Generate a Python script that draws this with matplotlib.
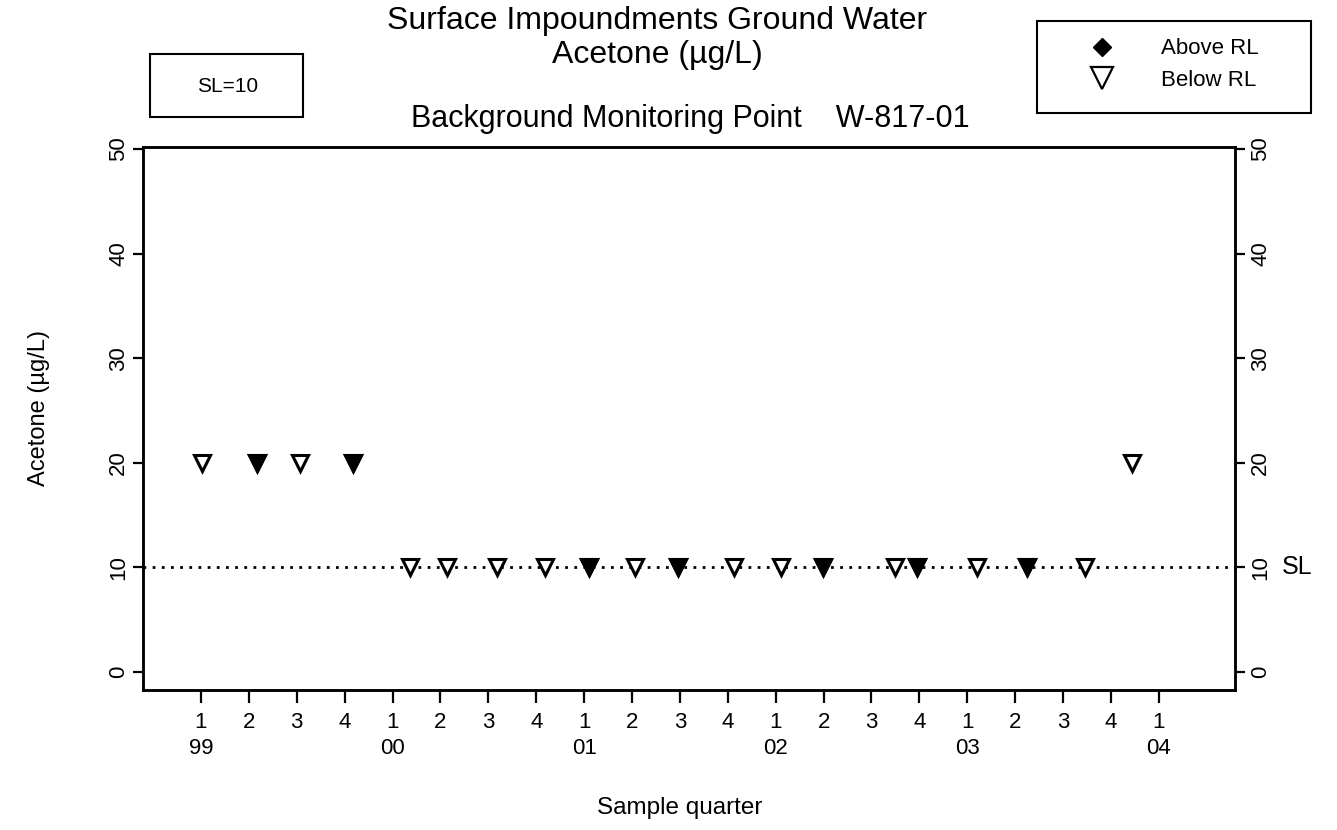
import matplotlib
matplotlib.use("Agg")
import matplotlib.pyplot as plt
from matplotlib.patches import Rectangle
from matplotlib.lines import Line2D
from matplotlib import font_manager

# quarter axis: index 0 = 1st quarter 1999
quarter_labels = ["1", "2", "3", "4"] * 5 + ["1"]
year_labels = ["99", "00", "01", "02", "03", "04"]

# samples below reporting limit (position on quarter index, value in ug/L)
below_x = [0.02, 1.17, 2.07, 3.17, 4.36, 5.14, 6.18, 7.18, 8.10, 9.06, 9.96,
           11.13, 12.11, 12.99, 14.49, 14.95, 16.2, 17.24, 18.46, 19.44]
below_y = [20, 20, 20, 20, 10, 10, 10, 10, 10, 10, 10,
           10, 10, 10, 10, 10, 10, 10, 10, 20]
# duplicate samples drawn on top of each other (look bold)
dup_x = [1.17, 3.17, 8.10, 9.96, 12.99, 14.95, 17.24]
dup_y = [20, 20, 10, 10, 10, 10, 10]
# samples above reporting limit: none
above_x = []
above_y = []

sl_value = 10

names = {f.name for f in font_manager.fontManager.ttflist}
base = "Liberation Sans" if "Liberation Sans" in names else "DejaVu Sans"
plt.rcParams["font.family"] = [base, "DejaVu Sans"]

W, H = 1337, 830
fig = plt.figure(figsize=(W / 100, H / 100), dpi=100)
ax = fig.add_axes([143 / W, 1 - 690 / H, (1235 - 143) / W, (690 - 147) / H])

ax.plot(below_x, below_y, linestyle="none", marker="v", ms=11,
        mfc="white", mec="black", mew=2.2)
ax.plot(dup_x, dup_y, linestyle="none", marker="v", ms=11,
        mfc="black", mec="black", mew=2.2)
ax.plot(above_x, above_y, linestyle="none", marker="D", ms=9, color="black")

ax.axhline(sl_value, color="black", lw=2.0, linestyle=(0, (1, 2.3)), zorder=1)

ax.set_xlim(-1.21, 21.59)
ax.set_ylim(-1.72, 50.2)

ticks = list(range(len(quarter_labels)))
labels = []
for i, q in enumerate(quarter_labels):
    if i % 4 == 0:
        labels.append(q + "\n" + year_labels[i // 4])
    else:
        labels.append(q)
ax.set_xticks(ticks)
ax.set_xticklabels(labels, fontsize=16)
for lbl in ax.get_xticklabels():
    lbl.set_linespacing(1.3)
ax.tick_params(axis="x", direction="out", length=9, width=1.6, pad=7)

yt = [0, 10, 20, 30, 40, 50]
ax.set_yticks(yt)
ax.set_yticklabels([str(v) for v in yt], fontsize=16, rotation=90, va="center")
ax.tick_params(axis="y", direction="out", length=7, width=1.6, pad=3)

ax2 = ax.twinx()
ax2.set_ylim(ax.get_ylim())
ax2.set_yticks(yt)
ax2.set_yticklabels([str(v) for v in yt], fontsize=16, rotation=90, va="center")
ax2.tick_params(axis="y", direction="out", length=7, width=1.6, pad=4)

for a in (ax, ax2):
    for s in a.spines.values():
        s.set_linewidth(1.8)

ax.annotate("SL", xy=(1, sl_value), xycoords=("axes fraction", "data"),
            xytext=(34, 0), textcoords="offset points", fontsize=18,
            va="center", ha="left")

ax.set_ylabel("Acetone (µg/L)", fontsize=17)
ax.yaxis.set_label_coords((50 - 143) / 1092, 0.52)
ax.set_xlabel("Sample quarter", fontsize=17.5)
ax.xaxis.set_label_coords((680 - 143) / 1092, -(797 - 690) / 543)

# titles
fig.text(657 / W, 1 - 21 / H, "Surface Impoundments Ground Water",
         fontsize=23, ha="center", va="center")
fig.text(657 / W, 1 - 55 / H, "Acetone (µg/L)",
         fontsize=23, ha="center", va="center")
fig.text(690 / W, 1 - 119 / H, "Background Monitoring Point    W-817-01",
         fontsize=22, ha="center", va="center")

# SL box
fig.add_artist(Rectangle((150 / W, 1 - 117 / H), (303 - 150) / W, (117 - 54) / H,
                         transform=fig.transFigure, fill=False, lw=1.5, ec="black"))
fig.text(228 / W, 1 - 86 / H, "SL=10", fontsize=15, ha="center", va="center")

# legend box
fig.add_artist(Rectangle((1037 / W, 1 - 113 / H), (1311 - 1037) / W, (113 - 21) / H,
                         transform=fig.transFigure, fill=False, lw=1.5, ec="black"))
fig.add_artist(Line2D([1102 / W], [1 - 47 / H], transform=fig.transFigure,
                      marker="D", ms=9.5, color="black", linestyle="none"))
fig.add_artist(Line2D([1102 / W], [1 - 78 / H], transform=fig.transFigure,
                      marker="v", ms=16, mfc="white", mec="black", mew=1.6,
                      linestyle="none"))
fig.text(1161 / W, 1 - 48 / H, "Above RL", fontsize=16, ha="left", va="center")
fig.text(1161 / W, 1 - 80 / H, "Below RL", fontsize=16, ha="left", va="center")

fig.savefig("out.png", dpi=100)
